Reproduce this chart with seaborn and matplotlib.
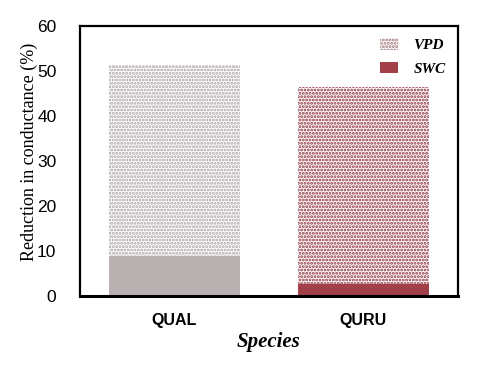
import numpy as np
import pandas as pd
import seaborn as sns
import matplotlib.pyplot as plt
from matplotlib.patches import Patch

# Data
species = ["QUAL", "QURU"]
swc = [9.0, 2.7]          # solid bottom part
vpd = [42.3, 43.7]        # dotted top part
solid_colors = ["#b9b1b1", "#a23f48"]
dot_colors = ["#aba3a3", "#8e2f3a"]

df = pd.DataFrame({"species": species, "swc": swc, "vpd": vpd})
df["total"] = df["swc"] + df["vpd"]

sns.set_style("white")
plt.rcParams["hatch.linewidth"] = 1.4
plt.rcParams["text.color"] = "black"
plt.rcParams["axes.labelcolor"] = "black"
plt.rcParams["xtick.color"] = "black"
plt.rcParams["ytick.color"] = "black"

fig = plt.figure(figsize=(4.82, 3.72), dpi=100)
ax = fig.add_axes([0.166, 0.204, 0.784, 0.726])

# top (VPD) part drawn as full-height bar with dots, SWC drawn on top
sns.barplot(data=df, x="species", y="total", hue="species", palette=dot_colors,
            width=0.695, legend=False, ax=ax)
for p, c in zip(ax.patches, dot_colors):
    p.set_facecolor("white")
    p.set_edgecolor(c)
    p.set_hatch(".....")
    p.set_linewidth(0)
n_top = len(ax.patches)

sns.barplot(data=df, x="species", y="swc", hue="species", palette=solid_colors,
            width=0.695, legend=False, ax=ax, saturation=1)
for p in ax.patches[n_top:]:
    p.set_linewidth(0)

ax.set_xlim(-0.5, 1.5)
ax.set_ylim(0, 60)
ax.set_yticks(range(0, 61, 10))
ax.tick_params(axis="y", length=0, pad=17)
ax.tick_params(axis="x", length=0, pad=12)
for lab in ax.get_yticklabels():
    lab.set_fontfamily("Liberation Sans")
    lab.set_fontsize(12.5)
for lab in ax.get_xticklabels():
    lab.set_fontfamily("Liberation Sans")
    lab.set_fontweight("bold")
    lab.set_fontsize(11.5)

ax.set_ylabel("Reduction in conductance (%)", family="Liberation Serif",
              fontsize=13)
ax.yaxis.set_label_coords(-0.112, 0.535)
ax.set_xlabel("Species", family="Liberation Serif", fontsize=15,
              fontweight="bold", fontstyle="italic", labelpad=3)

for s in ["left", "top", "right"]:
    ax.spines[s].set_visible(True)
    ax.spines[s].set_color("black")
    ax.spines[s].set_linewidth(1.6)
ax.spines["bottom"].set_color("black")
ax.spines["bottom"].set_linewidth(2.2)

handles = [Patch(facecolor="white", edgecolor="#a07278", hatch=".....", linewidth=0),
           Patch(facecolor=solid_colors[1], linewidth=0)]
leg = ax.legend(handles, ["VPD", "SWC"], loc="upper right", frameon=False,
                prop={"family": "Liberation Serif", "weight": "bold",
                      "style": "italic", "size": 11},
                handlelength=1.2, handleheight=0.8, handletextpad=1.0,
                labelspacing=0.6, borderaxespad=0.4)

fig.savefig("out.png", dpi=100)
